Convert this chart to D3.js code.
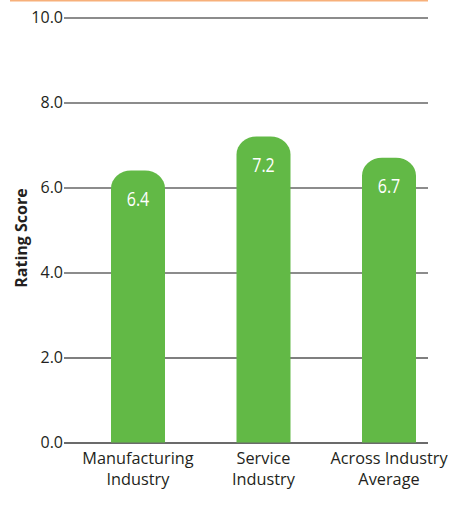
<!DOCTYPE html>
<html>
<head>
<meta charset="utf-8">
<script src="https://cdn.jsdelivr.net/npm/d3@7"></script>
<style>
  html, body { margin: 0; padding: 0; background: #fff; }
  svg { display: block; }
</style>
</head>
<body>
<svg id="chart" width="453" height="505"></svg>
<script>
// Chart data
const categories = [["Manufacturing", "Industry"], ["Service", "Industry"], ["Across Industry", "Average"]];
const categoryKeys = ["Manufacturing Industry", "Service Industry", "Across Industry Average"];
const scores = [6.4, 7.2, 6.7];
const tickValues = [0, 2, 4, 6, 8, 10];
const axisTitle = "Rating Score";

const svg = d3.select("#chart");
const plotLeft = 64, plotRight = 428;
const font = "'Open Sans', 'Noto Sans', sans-serif";

const y = d3.scaleLinear().domain([0, 10]).range([442.5, 17.5]);
const x = d3.scalePoint().domain(categoryKeys).range([138, 389]);
const barWidth = 54;

// Orange rule across the top
svg.append("line")
  .attr("x1", 10).attr("x2", 428).attr("y1", 0.5).attr("y2", 0.5)
  .attr("stroke", "#f7b07a").attr("stroke-width", 2);

// Gridlines styled per level
const gridStyle = {
  10: { color: "#8c8c8c", width: 2 },
  8:  { color: "#8c8c8c", width: 2 },
  6:  { color: "#1a1a1a", width: 1.1 },
  4:  { color: "#1a1a1a", width: 1.1 },
  2:  { color: "#555555", width: 1.3 },
  0:  { color: "#3a3a3a", width: 1.5 }
};

const yAxis = d3.axisLeft(y)
  .tickValues(tickValues)
  .tickFormat(d3.format(".1f"))
  .tickSize(0)
  .tickPadding(1);

const yg = svg.append("g")
  .attr("transform", `translate(${plotLeft},0)`)
  .call(yAxis);
yg.select(".domain").remove();
yg.selectAll(".tick text")
  .attr("font-family", font)
  .attr("font-size", 16)
  .attr("fill", "#231f20");
yg.selectAll(".tick").append("line")
  .attr("x1", 0).attr("x2", plotRight - plotLeft)
  .attr("stroke", d => gridStyle[d].color)
  .attr("stroke-width", d => gridStyle[d].width);

// Bars with rounded tops
function barPath(cx, top, bottom, w) {
  const rx = 20, ry = 18;
  const l = cx - w / 2, r = cx + w / 2;
  return `M${l},${bottom} L${l},${top + ry} A${rx},${ry} 0 0 1 ${l + rx},${top}` +
    ` L${r - rx},${top} A${rx},${ry} 0 0 1 ${r},${top + ry} L${r},${bottom} Z`;
}

const data = categoryKeys.map((k, i) => ({ key: k, lines: categories[i], value: scores[i] }));

svg.append("g").selectAll("path")
  .data(data)
  .join("path")
  .attr("d", d => barPath(x(d.key), y(d.value), y(0), barWidth))
  .attr("fill", "#62b946");

// Value labels inside bars, horizontally condensed
svg.append("g").selectAll("text")
  .data(data)
  .join("text")
  .attr("transform", d => `translate(${x(d.key)},${y(d.value) + 35}) scale(0.8,1)`)
  .attr("text-anchor", "middle")
  .attr("font-family", font)
  .attr("font-weight", 400)
  .attr("font-size", 20)
  .attr("fill", "#ffffff")
  .text(d => d.value.toFixed(1));

// Category labels
const catG = svg.append("g").selectAll("text")
  .data(data)
  .join("text")
  .attr("text-anchor", "middle")
  .attr("font-family", font)
  .attr("font-size", 16.3)
  .attr("fill", "#231f20");
catG.selectAll("tspan")
  .data(d => d.lines.map(t => ({ t, cx: x(d.key) })))
  .join("tspan")
  .attr("x", d => d.cx)
  .attr("y", (d, i) => 464 + i * 21)
  .text(d => d.t);

// Axis title
svg.append("text")
  .attr("transform", `translate(27,238) rotate(-90)`)
  .attr("text-anchor", "middle")
  .attr("font-family", font)
  .attr("font-weight", "bold")
  .attr("font-size", 16)
  .attr("fill", "#231f20")
  .text(axisTitle);
</script>
</body>
</html>
